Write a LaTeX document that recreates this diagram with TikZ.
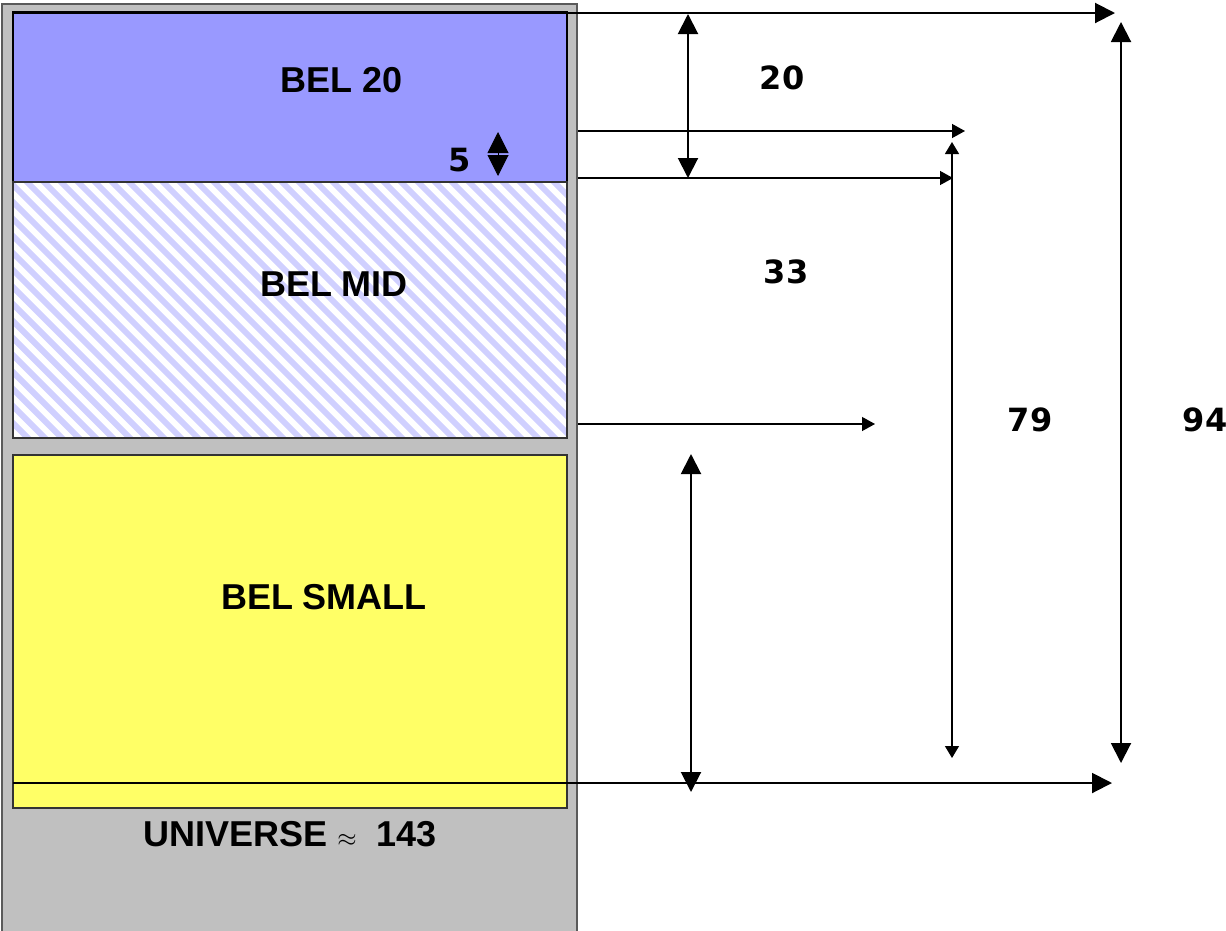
\documentclass[tikz,border=0pt]{standalone}
\usepackage{fontspec}
\setmainfont{Liberation Sans}
\newfontfamily\numfont{DejaVu Sans}
\usetikzlibrary{arrows.meta}
\definecolor{belblue}{RGB}{153,153,255}
\definecolor{belyellow}{RGB}{255,255,102}
\definecolor{univgray}{RGB}{192,192,192}
\definecolor{hatchblue}{RGB}{208,208,255}
\definecolor{edgegray}{RGB}{90,90,90}
\begin{document}
\begin{tikzpicture}[x=1pt,y=-1pt,
  lbl/.style={font=\fontsize{36}{40}\selectfont\bfseries, inner sep=0pt},
  num/.style={font=\fontsize{32}{36}\selectfont\numfont\bfseries, inner sep=0pt},
  box/.style={draw=black, line width=1.2pt, anchor=north west, inner sep=0pt, outer sep=0pt},
  bigtip/.style={-{Triangle[length=20pt,width=20pt]}, line width=2pt},
  bigboth/.style={{Triangle[length=20pt,width=20pt]}-{Triangle[length=20pt,width=20pt]}, line width=2pt},
  smalltip/.style={-{Triangle[length=13pt,width=14pt]}, line width=1.3pt},
  smallboth/.style={{Triangle[length=12pt,width=14pt]}-{Triangle[length=12pt,width=14pt]}, line width=1.3pt}
]
\useasboundingbox (0,0) rectangle (1226,930);
\clip (0,0) rectangle (1226,930);

% universe
\fill[univgray] (2,4) rectangle (577,945);
\draw[edgegray, line width=1.5pt] (2,945) -- (2,4) -- (577,4) -- (577,945);

% BEL 20
\node[box, fill=belblue, minimum width=554pt, minimum height=170pt] (bel20) at (13,12) {};
% BEL MID hatched
\begin{scope}
  \clip (13,182) rectangle (567,438);
  \fill[white] (13,182) rectangle (567,438);
  \foreach \i in {-272,-255,...,580} {
    \draw[hatchblue, line width=6pt] (\i,172) -- (\i+276,448);
  }
\end{scope}
\node[box, draw=black!80, minimum width=554pt, minimum height=256pt] (belmid) at (13,182) {};
% BEL SMALL
\node[box, draw=black!80, fill=belyellow, minimum width=554pt, minimum height=353pt] (belsmall) at (13,455) {};

% labels
\node[lbl] (l20) at (342,80) {BEL 20};
\node[lbl] (lmid) at (334,284) {BEL MID};
\node[lbl] (lsmall) at (324,597) {BEL SMALL};
\node[lbl] (luniv) at (290,834) {UNIVERSE {\fontsize{42}{46}\selectfont$\approx$}\ \ 143};
\node[num] (n5) at (460,160) {5};
\node[num] (n20) at (782,78) {20};
\node[num] (n33) at (786,272) {33};
\node[num] (n79) at (1030,420) {79};
\node[num] (n94) at (1205,420) {94};

% coordinates
\coordinate (a0) at (13,13);   \coordinate (a1) at (1115,13);
\coordinate (b0) at (578,131); \coordinate (b1) at (965,131);
\coordinate (c0) at (578,178); \coordinate (c1) at (953,178);
\coordinate (d0) at (578,424); \coordinate (d1) at (875,424);
\coordinate (e0) at (13,783);  \coordinate (e1) at (1112,783);
\coordinate (f0) at (688,14);  \coordinate (f1) at (688,178);
\coordinate (g0) at (952,142); \coordinate (g1) at (952,758);
\coordinate (h0) at (1121,22); \coordinate (h1) at (1121,763);
\coordinate (k0) at (691,454); \coordinate (k1) at (691,792);
\coordinate (m0) at (498,132); \coordinate (m1) at (498,176);

\draw[bigtip] (a0) -- (a1);
\draw[smalltip] (b0) -- (b1);
\draw[smalltip] (c0) -- (c1);
\draw[smalltip] (d0) -- (d1);
\draw[bigtip] (e0) -- (e1);
\draw[bigboth] (f0) -- (f1);
\draw[smallboth] (g0) -- (g1);
\draw[bigboth] (h0) -- (h1);
\draw[bigboth] (k0) -- (k1);
\draw[{Triangle[length=21pt,width=21pt]}-{Triangle[length=21pt,width=21pt]}, line width=1pt] (m0) -- (m1);
\end{tikzpicture}
\end{document}
